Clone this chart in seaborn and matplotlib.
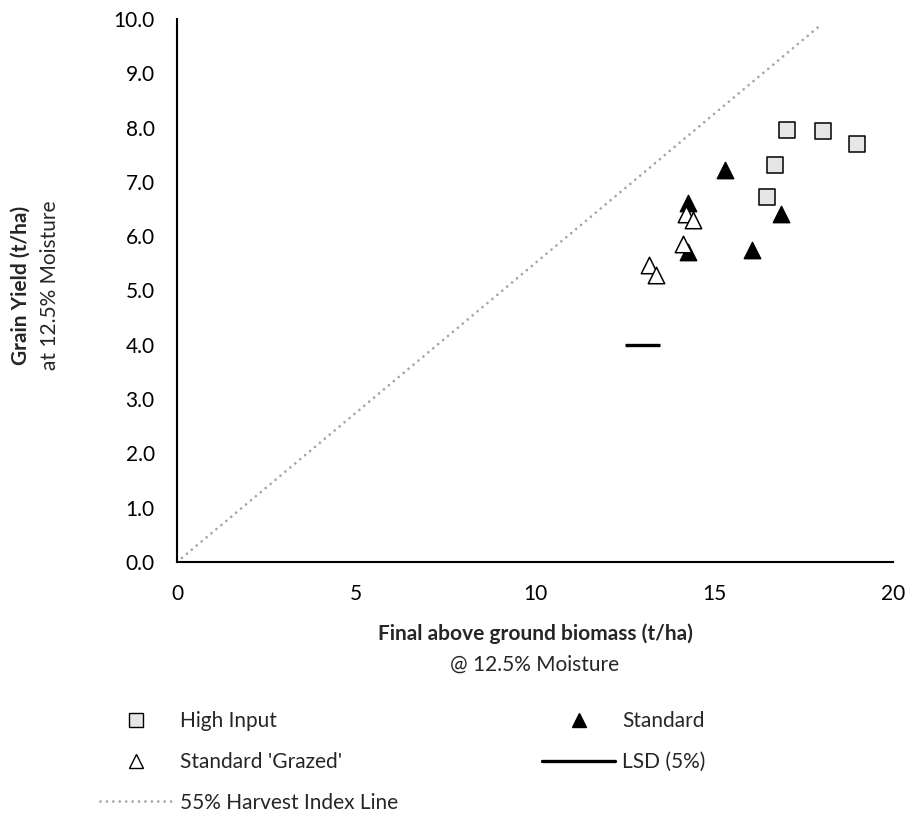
import matplotlib
matplotlib.use("Agg")
import matplotlib.pyplot as plt
import pandas as pd
import seaborn as sns
from matplotlib.lines import Line2D

# data
HIGH_INPUT_X = [17.03, 18.04, 19.00, 16.71, 16.49]
HIGH_INPUT_Y = [7.96, 7.93, 7.70, 7.32, 6.72]
STANDARD_X = [15.31, 14.28, 16.87, 14.27, 16.06]
STANDARD_Y = [7.22, 6.61, 6.40, 5.70, 5.75]
GRAZED_X = [14.22, 14.42, 14.13, 13.18, 13.37]
GRAZED_Y = [6.40, 6.29, 5.85, 5.47, 5.29]
LSD_X = [12.5, 13.5]
LSD_Y = [4.0, 4.0]
HARVEST_INDEX = 0.55
HI_X = [0.0, 17.9]

X_TICKS = [0, 5, 10, 15, 20]
Y_TICKS = [0, 1, 2, 3, 4, 5, 6, 7, 8, 9, 10]

FONT = ["Lato", "DejaVu Sans"]
FS = 15
DOTTED = (0, (0.01, 2.3))


def main() -> None:
    sns.set_style("white")
    plt.rcParams["font.family"] = FONT

    df = pd.DataFrame({
        "biomass": HIGH_INPUT_X + STANDARD_X + GRAZED_X,
        "yield": HIGH_INPUT_Y + STANDARD_Y + GRAZED_Y,
        "group": ["High Input"] * len(HIGH_INPUT_X)
        + ["Standard"] * len(STANDARD_X)
        + ["Standard 'Grazed'"] * len(GRAZED_X),
    })

    fig = plt.figure(figsize=(9.1, 8.24), dpi=100)
    ax = fig.add_axes([177 / 910, 1 - 562 / 824, 716 / 910, 543 / 824])

    hi_y = [HARVEST_INDEX * x for x in HI_X]
    ax.plot(HI_X, hi_y, color="#A6A6A6", linewidth=2.0,
            linestyle=DOTTED, dash_capstyle="round", zorder=1)

    ax.plot(LSD_X, LSD_Y, color="black", linewidth=2.4, solid_capstyle="butt", zorder=2)

    sns.scatterplot(data=df[df["group"] == "High Input"], x="biomass", y="yield",
                    marker="s", s=135, color="#E6E6E6", edgecolor="black",
                    linewidth=1.1, ax=ax, legend=False, zorder=3)
    sns.scatterplot(data=df[df["group"] == "Standard"], x="biomass", y="yield",
                    marker="^", s=140, color="black", edgecolor="black",
                    linewidth=1, ax=ax, legend=False, zorder=3)
    sns.scatterplot(data=df[df["group"] == "Standard 'Grazed'"], x="biomass", y="yield",
                    marker="^", s=140, color="white", edgecolor="black",
                    linewidth=1.1, ax=ax, legend=False, zorder=4)

    ax.set_xlim(0, 20)
    ax.set_ylim(0, 10)
    ax.set_xticks(X_TICKS)
    ax.set_yticks(Y_TICKS)
    ax.set_xticklabels([str(t) for t in X_TICKS])
    ax.set_yticklabels([f"{t:.1f}" for t in Y_TICKS])
    ax.tick_params(axis="both", direction="in", length=5, width=1.3,
                   labelsize=FS, colors="black")
    ax.tick_params(axis="x", pad=16)
    ax.tick_params(axis="y", pad=16)
    for side in ["top", "right"]:
        ax.spines[side].set_visible(False)
    for side in ["left", "bottom"]:
        ax.spines[side].set_color("black")
        ax.spines[side].set_linewidth(1.5)
    ax.set_xlabel("")
    ax.set_ylabel("")

    # axis titles: bold main line, regular second line
    fig.text(535 / 910, 1 - 634 / 824, "Final above ground biomass (t/ha)",
             ha="center", va="center", fontsize=FS, fontweight="bold")
    fig.text(535 / 910, 1 - 665 / 824, "@ 12.5% Moisture",
             ha="center", va="center", fontsize=FS)
    fig.text(21 / 910, 1 - 285 / 824, "Grain Yield (t/ha)", rotation=90,
             ha="center", va="center", fontsize=FS, fontweight="bold")
    fig.text(50 / 910, 1 - 285 / 824, "at 12.5% Moisture", rotation=90,
             ha="center", va="center", fontsize=FS)

    handles = [
        Line2D([], [], linestyle="none", marker="s", markersize=10,
               markerfacecolor="#E6E6E6", markeredgecolor="black", markeredgewidth=1),
        Line2D([], [], linestyle="none", marker="^", markersize=10,
               markerfacecolor="white", markeredgecolor="black", markeredgewidth=1),
        Line2D([], [], color="#A6A6A6", linewidth=2.0, linestyle=DOTTED,
               dash_capstyle="round"),
        Line2D([], [], linestyle="none", marker="^", markersize=10,
               markerfacecolor="black", markeredgecolor="black"),
        Line2D([], [], color="black", linewidth=2.4),
    ]
    labels = ["High Input", "Standard 'Grazed'", "55% Harvest Index Line",
              "Standard", "LSD (5%)"]
    fig.legend(handles, labels, ncol=2, loc="upper left",
               bbox_to_anchor=(100 / 910, 1 - 711 / 824), frameon=False,
               fontsize=FS, handlelength=3.5, handletextpad=0.35,
               columnspacing=6.9, labelspacing=1.0, borderaxespad=0,
               borderpad=0)

    fig.savefig("out.png", dpi=100)
    plt.close(fig)


if __name__ == "__main__":
    main()
